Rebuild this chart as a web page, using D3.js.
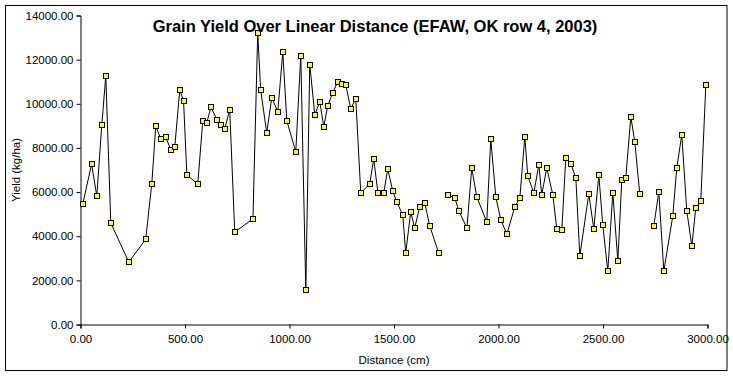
<!DOCTYPE html>
<html>
<head>
<meta charset="utf-8">
<script src="https://cdn.jsdelivr.net/npm/d3@7"></script>
<style>
  html, body { margin: 0; padding: 0; background: #fff; }
  svg { display: block; }
  text { font-family: "Liberation Sans", Arial, sans-serif; fill: #000; }
</style>
</head>
<body>
<svg id="chart" width="733" height="376"></svg>
<script>
// Distance (cm); null yield marks a break in the line
const distance = [11, 53, 78, 102, 121, 145, 231, 312, 341, 360, 384, 408, 432, 451, 475, 493, 509, 561, 585, 604,
  624, 652, 671, 690, 714, 738, 825, 848, 862, 891, 915, 944, 968, 987, 1030, 1054, 1078, 1097, 1121, 1145,
  1164, 1183, 1207, 1231, 1250, 1269, 1293, 1317, 1341, 1384, 1403, 1423, 1451, 1470, 1494, 1513, 1542, 1556, 1580, 1599,
  1623, 1647, 1671, 1714, 1736, 1758, 1791, 1810, 1849, 1872, 1896, 1944, 1963, 1987, 2011, 2040, 2078, 2102, 2126, 2140,
  2169, 2193, 2207, 2231, 2260, 2279, 2303, 2322, 2346, 2370, 2389, 2432, 2456, 2480, 2499, 2523, 2547, 2571, 2590, 2609,
  2633, 2652, 2676, 2710, 2743, 2767, 2791, 2834, 2853, 2877, 2901, 2925, 2944, 2968, 2992];
const yieldKgHa = [5463, 7266, 5826, 9050, 11262, 4600, 2829, 3860, 6357, 8991, 8415, 8492, 7915, 8038, 10626, 10140, 6780, 6357, 9218, 9127,
  9854, 9277, 9037, 8869, 9718, 4191, 4782, 13228, 10626, 8687, 10276, 9641, 12352, 9232, 7824, 12184, 1557, 11775, 9504, 10095,
  8960, 9913, 10503, 11003, 10912, 10867, 9777, 10231, 5962, 6371, 7506, 5962, 5962, 7052, 6053, 5554, 4963, 3238, 5100, 4373,
  5327, 5508, 4464, 3238, null, 5872, 5735, 5145, 4373, 7098, 5781, 4645, 8415, 5781, 4736, 4100, 5327, 5735, 8505, 6734,
  5962, 7234, 5872, 7098, 5872, 4328, 4282, 7552, 7279, 6643, 3102, 5917, 4328, 6780, 4509, 2420, 5962, 2874, 6553, 6643,
  9414, 8278, 5917, null, 4464, 6008, 2420, 4918, 7098, 8596, 5145, 3556, 5281, 5599, 10867];
const yTicks = [0, 2000, 4000, 6000, 8000, 10000, 12000, 14000];
const xTicks = [0, 500, 1000, 1500, 2000, 2500, 3000];
const titleText = "Grain Yield Over Linear Distance (EFAW, OK row 4, 2003)";
const xTitle = "Distance (cm)";
const yTitle = "Yield (kg/ha)";

const data = distance.map((d, i) => ({ x: d, y: yieldKgHa[i] }));

const svg = d3.select("#chart");

// outer frame
svg.append("rect").attr("x", 5.5).attr("y", 5.5).attr("width", 721.5).attr("height", 365)
  .attr("fill", "#fff").attr("stroke", "#000").attr("stroke-width", 1);

const x = d3.scaleLinear().domain([0, 3000]).range([80.5, 707.5]);
const y = d3.scaleLinear().domain([0, 14000]).range([324.5, 15.5]);

// Y axis
const yAxis = d3.axisLeft(y).tickValues(yTicks).tickFormat(d3.format(".2f")).tickSize(4).tickPadding(3);
const gy = svg.append("g").attr("transform", "translate(80.5,0)").call(yAxis);
gy.selectAll("text").style("font-size", "11.5px").style("font-family", '"Liberation Sans", Arial, sans-serif');
gy.select(".domain").attr("stroke", "#000");
gy.selectAll(".tick line").attr("stroke", "#000");

// X axis
const xAxis = d3.axisBottom(x).tickValues(xTicks).tickFormat(d3.format(".2f")).tickSize(4).tickPadding(6);
const gx = svg.append("g").attr("transform", "translate(0,324.5)").call(xAxis);
gx.selectAll("text").style("font-size", "11.5px").style("font-family", '"Liberation Sans", Arial, sans-serif');
gx.select(".domain").attr("stroke", "#000");
gx.selectAll(".tick line").attr("stroke", "#000");

// line
const line = d3.line().defined(d => d.y !== null).x(d => x(d.x)).y(d => y(d.y));
svg.append("path").datum(data).attr("d", line).attr("fill", "none").attr("stroke", "#000").attr("stroke-width", 1);

// markers
svg.append("g").selectAll("rect").data(data.filter(d => d.y !== null)).join("rect")
  .attr("x", d => Math.round(x(d.x)) - 2.5)
  .attr("y", d => Math.round(y(d.y)) - 2.5)
  .attr("width", 5).attr("height", 5)
  .attr("fill", "#ffff00").attr("stroke", "#000").attr("stroke-width", 1);

// titles
svg.append("text").attr("x", 375).attr("y", 32).attr("text-anchor", "middle")
  .style("font-size", "16.5px").style("font-weight", "bold").text(titleText);
svg.append("text").attr("x", 394).attr("y", 364).attr("text-anchor", "middle")
  .style("font-size", "11.5px").text(xTitle);
svg.append("text").attr("transform", "translate(20,170) rotate(-90)").attr("text-anchor", "middle")
  .style("font-size", "11.5px").text(yTitle);
</script>
</body>
</html>
